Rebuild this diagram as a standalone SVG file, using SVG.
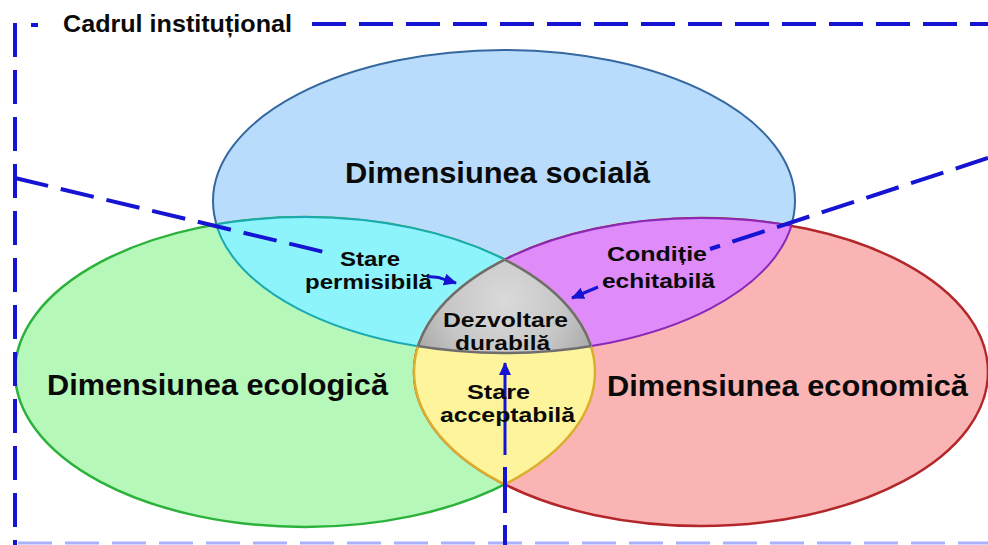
<svg xmlns="http://www.w3.org/2000/svg" width="988" height="545" viewBox="0 0 988 545">
<defs>
<style>
.lbl{font-family:"Liberation Sans",Arial,sans-serif;font-weight:bold;fill:#0a0a0a;}
.big{font-size:29px;}
.small{font-size:20px;}
.title{font-size:24px;}
.dash{fill:none;stroke:#1414d2;stroke-width:4;stroke-dasharray:34 13;}
.conn{fill:none;stroke:#1414d2;stroke-width:3;}
</style>
<clipPath id="cS"><ellipse cx="504" cy="202" rx="291" ry="151"/></clipPath>
<clipPath id="cG"><ellipse cx="305" cy="372" rx="290" ry="155"/></clipPath>
<clipPath id="cR"><ellipse cx="701" cy="372" rx="287" ry="154"/></clipPath>
<radialGradient id="gray" gradientUnits="userSpaceOnUse" cx="505" cy="300" r="100">
<stop offset="0" stop-color="#dadada"/>
<stop offset="0.6" stop-color="#c6c6c6"/>
<stop offset="1" stop-color="#a8a8a8"/>
</radialGradient>
<marker id="ah" markerUnits="userSpaceOnUse" markerWidth="14" markerHeight="12" refX="12" refY="6" orient="auto">
<path d="M0,0 L13,6 L0,12 Z" fill="#1414d2"/>
</marker>
</defs>
<rect width="988" height="545" fill="#ffffff"/>

<g id="node-social">
<ellipse cx="504" cy="201" rx="291" ry="151" fill="#b9dcfc" stroke="#34689f" stroke-width="2"/>
</g>
<g id="node-ecological">
<ellipse cx="305" cy="372" rx="290" ry="155" fill="#b6f8b9" stroke="#2cb23b" stroke-width="2.5"/>
</g>
<g id="node-economic">
<ellipse cx="701" cy="372" rx="287" ry="154" fill="#fbb4b4" stroke="#b3272b" stroke-width="2.5"/>
</g>

<g id="node-permisibila">
<ellipse cx="305" cy="372" rx="290" ry="155" fill="#8ef4fb" stroke="#1aaab5" stroke-width="2" clip-path="url(#cS)"/>
<ellipse cx="504" cy="202" rx="291" ry="151" fill="none" stroke="#1aaab5" stroke-width="2" clip-path="url(#cG)"/>
</g>
<g id="node-echitabila">
<ellipse cx="701" cy="372" rx="287" ry="154" fill="#df8bf9" stroke="#8a28b8" stroke-width="2" clip-path="url(#cS)"/>
<ellipse cx="504" cy="202" rx="291" ry="151" fill="none" stroke="#8a28b8" stroke-width="2" clip-path="url(#cR)"/>
</g>
<g id="node-acceptabila">
<ellipse cx="701" cy="372" rx="287" ry="154" fill="#fdf49b" stroke="#dcae2e" stroke-width="2.5" clip-path="url(#cG)"/>
<ellipse cx="305" cy="372" rx="290" ry="155" fill="none" stroke="#dcae2e" stroke-width="2.5" clip-path="url(#cR)"/>
</g>
<g id="node-durabila">
<g clip-path="url(#cS)"><g clip-path="url(#cR)">
<ellipse cx="305" cy="372" rx="290" ry="155" fill="url(#gray)" stroke="#6e6e6e" stroke-width="2.5"/>
</g></g>
<g clip-path="url(#cG)"><g clip-path="url(#cR)">
<ellipse cx="504" cy="202" rx="291" ry="151" fill="none" stroke="#6e6e6e" stroke-width="2.5"/>
</g></g>
<g clip-path="url(#cS)"><g clip-path="url(#cG)">
<ellipse cx="701" cy="372" rx="287" ry="154" fill="none" stroke="#6e6e6e" stroke-width="2.5"/>
</g></g>
</g>

<g id="frame">
<line x1="15" y1="23" x2="15" y2="545" class="dash"/>
<line x1="31" y1="25" x2="38" y2="25" stroke="#1414d2" stroke-width="4"/>
<line x1="312" y1="24" x2="988" y2="24" class="dash" stroke-dasharray="35 12"/>
<line x1="18" y1="543" x2="988" y2="543" fill="none" stroke="#aab2ff" stroke-width="3" stroke-dasharray="34 13"/>
</g>

<g id="connectors">
<line x1="15" y1="178" x2="324" y2="252" class="dash"/>
<path d="M427,277 Q437,276 446,280 L456,283" class="conn" marker-end="url(#ah)"/>
<line x1="988" y1="158" x2="710" y2="249" class="dash"/>
<line x1="598" y1="287" x2="572" y2="298" class="conn" marker-end="url(#ah)"/>
<line x1="505" y1="455" x2="505" y2="363" class="conn" marker-end="url(#ah)"/>
<line x1="505" y1="467" x2="505" y2="513" stroke="#1414d2" stroke-width="4"/>
<line x1="505" y1="525" x2="505" y2="545" stroke="#1414d2" stroke-width="4"/>
</g>

<g id="labels">
<text class="lbl title" x="63" y="32" textLength="229" lengthAdjust="spacingAndGlyphs">Cadrul instituțional</text>
<text class="lbl big" x="345" y="183" textLength="305" lengthAdjust="spacingAndGlyphs">Dimensiunea socială</text>
<text class="lbl big" x="47" y="395" textLength="341" lengthAdjust="spacingAndGlyphs">Dimensiunea ecologică</text>
<text class="lbl big" x="607" y="396" textLength="361" lengthAdjust="spacingAndGlyphs">Dimensiunea economică</text>
<text class="lbl small" x="340" y="266" textLength="60" lengthAdjust="spacingAndGlyphs">Stare</text>
<text class="lbl small" x="305" y="289" textLength="127" lengthAdjust="spacingAndGlyphs">permisibilă</text>
<text class="lbl small" x="607" y="261" textLength="100" lengthAdjust="spacingAndGlyphs">Condiție</text>
<text class="lbl small" x="602" y="288" textLength="113" lengthAdjust="spacingAndGlyphs">echitabilă</text>
<text class="lbl small" x="443" y="327" textLength="125" lengthAdjust="spacingAndGlyphs">Dezvoltare</text>
<text class="lbl small" x="455" y="350" textLength="95" lengthAdjust="spacingAndGlyphs">durabilă</text>
<text class="lbl small" x="467" y="399" textLength="63" lengthAdjust="spacingAndGlyphs">Stare</text>
<text class="lbl small" x="440" y="422" textLength="135" lengthAdjust="spacingAndGlyphs">acceptabilă</text>
</g>
</svg>
